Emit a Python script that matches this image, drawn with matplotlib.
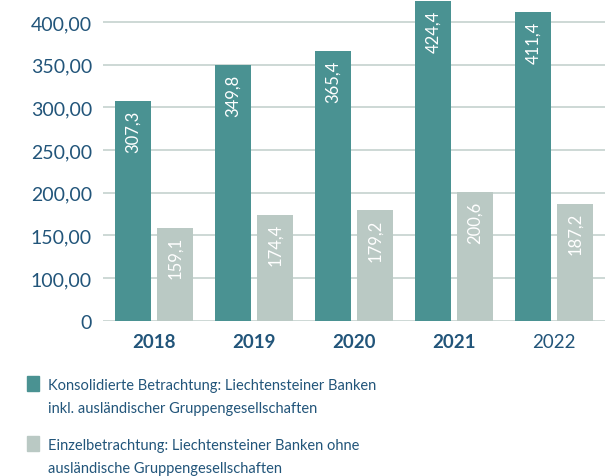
import matplotlib.pyplot as plt
from matplotlib.patches import Rectangle

YEARS = ["2018", "2019", "2020", "2021", "2022"]
KONSOLIDIERT = [307.3, 349.8, 365.4, 424.4, 411.4]
EINZEL = [159.1, 174.4, 179.2, 200.6, 187.2]
TICK_VALUES = [50, 100, 150, 200, 250, 300, 350, 400]
TICK_LABELS = ["0", "100,00", "150,00", "200,00", "250,00", "300,00", "350,00", "400,00"]
LEGEND_LABELS = [
    "Konsolidierte Betrachtung: Liechtensteiner Banken\ninkl. ausländischer Gruppengesellschaften",
    "Einzelbetrachtung: Liechtensteiner Banken ohne\nausländische Gruppengesellschaften",
]

TEAL = "#4a9292"
GREY = "#bac9c4"
TEXT = "#22557a"
GRID = "#c9d6d2"
FONT = "Lato"


def fmt(v: float) -> str:
    return f"{v:.1f}".replace(".", ",")


def main() -> None:
    plt.rcParams["font.family"] = FONT
    fig = plt.figure(figsize=(6.14, 4.77), dpi=100)
    ax = fig.add_axes([0.168, 0.3256, 0.8173, 0.671])

    xs = list(range(len(YEARS)))
    width = 0.36
    off = 0.21
    ax.bar([x - off for x in xs], KONSOLIDIERT, width, color=TEAL, zorder=3)
    ax.bar([x + off for x in xs], EINZEL, width, color=GREY, zorder=3)

    # value labels inside the bars, rotated
    for x, v in zip(xs, KONSOLIDIERT):
        ax.text(x - off, v - 10, fmt(v), rotation=90, ha="center", va="top",
                color="white", fontsize=12, zorder=4)
    for x, v in zip(xs, EINZEL):
        ax.text(x + off, v - 10, fmt(v), rotation=90, ha="center", va="top",
                color="white", fontsize=12, zorder=4)

    ax.set_xlim(-0.51, 4.51)
    ax.set_ylim(50, 425)
    ax.set_yticks(TICK_VALUES)
    ax.set_yticklabels(TICK_LABELS)
    ax.set_xticks(xs)
    ax.set_xticklabels(YEARS)
    for i, lbl in enumerate(ax.get_xticklabels()):
        lbl.set_fontweight("bold" if i < 4 else "normal")
    ax.tick_params(axis="y", length=0, pad=8, labelsize=14, labelcolor=TEXT)
    ax.tick_params(axis="x", length=0, pad=9, labelsize=13.5, labelcolor=TEXT)
    ax.grid(axis="y", color=GRID, linewidth=1.3, zorder=0)
    ax.set_axisbelow(True)
    for s in ax.spines.values():
        s.set_visible(False)

    # legend drawn by hand
    W, H = 614, 477
    for col, lab, top in zip([TEAL, GREY], LEGEND_LABELS, [377, 437]):
        fig.patches.append(Rectangle((27 / W, 1 - (top + 15) / H), 12 / W, 15 / H,
                                     transform=fig.transFigure, color=col))
        fig.text(48 / W, 1 - (top + 2) / H, lab, ha="left", va="top",
                 fontsize=10.5, color=TEXT, linespacing=1.85)

    fig.savefig("out.png", dpi=100)
    plt.close(fig)


if __name__ == "__main__":
    main()
